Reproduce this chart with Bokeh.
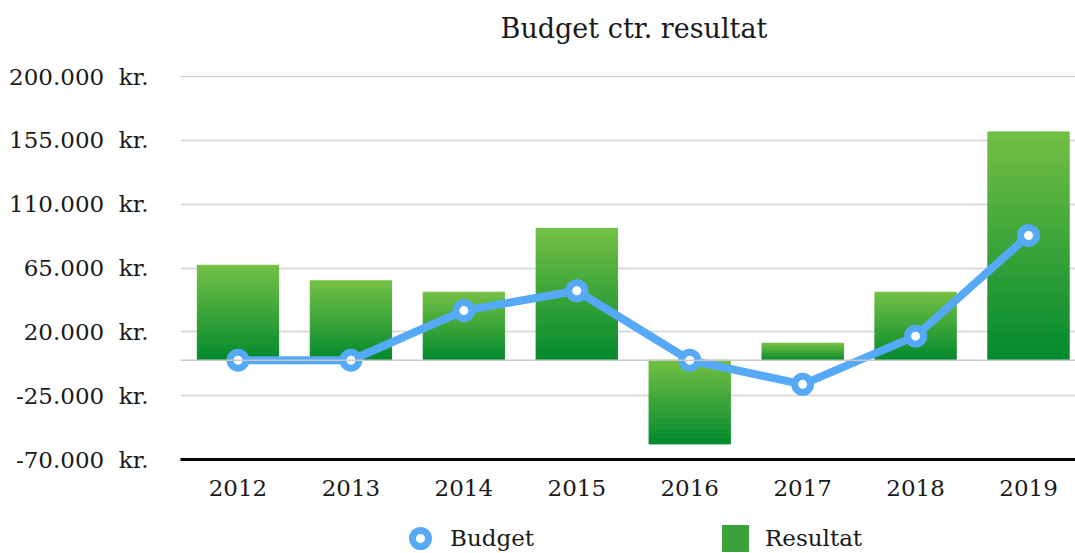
from bokeh.plotting import figure
from bokeh.layouts import column
from bokeh.models import (FixedTicker, Range1d, Legend, LegendItem, Span, ColumnDataSource, Label)
from bokeh.embed import file_html
from bokeh.resources import INLINE

# ---- data ----
title_text = "Budget ctr. resultat"
years = [2012, 2013, 2014, 2015, 2016, 2017, 2018, 2019]
year_labels = ["2012", "2013", "2014", "2015", "2016", "2017", "2018", "2019"]
resultat = [67000, 56000, 48000, 93000, -59000, 12000, 48000, 161000]
budget = [0, 0, 35000, 49000, 0, -17000, 17000, 88000]
y_ticks = [-70000, -25000, 20000, 65000, 110000, 155000, 200000]
y_tick_labels = ["-70.000\u00a0 kr.", "-25.000\u00a0 kr.", "20.000\u00a0 kr.", "65.000\u00a0 kr.",
                 "110.000\u00a0 kr.", "155.000\u00a0 kr.", "200.000\u00a0 kr."]
series_names = ["Budget", "Resultat"]

FONT = "DejaVu Serif"
TXT = "#1a1a1a"
BLUE = "#55a9f6"
LEG_GREEN = "#3aa23b"
TOP_GREEN = (0x72, 0xbf, 0x44)
BOT_GREEN = (0x04, 0x8a, 0x2e)


def strip(h):
    f = figure(width=1075, height=h, output_backend="svg", toolbar_location=None,
               x_range=Range1d(0, 1), y_range=Range1d(0, 1),
               min_border_left=180, min_border_right=0, min_border_top=0, min_border_bottom=0)
    f.axis.visible = False
    f.grid.visible = False
    f.outline_line_color = None
    f.border_fill_color = "white"
    f.background_fill_color = "white"
    return f


# ---- title strip ----
ts = strip(50)
ts.add_layout(Label(x=0.5067, y=0.44, text=title_text, text_font=FONT, text_font_size="27px",
                    text_color=TXT, text_align="center", text_baseline="middle"))

# ---- main chart ----
p = figure(width=1075, height=455, output_backend="svg", toolbar_location=None,
           x_range=Range1d(2011.491, 2019.416), y_range=Range1d(-70000, 200800),
           min_border_left=180, min_border_right=0, min_border_top=25, min_border_bottom=46)
p.outline_line_color = None
p.background_fill_color = "white"
p.border_fill_color = "white"

p.xaxis.ticker = FixedTicker(ticks=years)
p.xaxis.major_label_overrides = {y: l for y, l in zip(years, year_labels)}
p.xaxis.major_tick_line_color = None
p.xaxis.minor_tick_line_color = None
p.xaxis.major_tick_out = 0
p.xaxis.major_label_standoff = 20
p.xaxis.axis_line_color = "#000000"
p.xaxis.axis_line_width = 3
p.xaxis.major_label_text_font = FONT
p.xaxis.major_label_text_font_size = "23px"
p.xaxis.major_label_text_color = TXT

p.yaxis.ticker = FixedTicker(ticks=y_ticks)
p.yaxis.major_label_overrides = {t: l for t, l in zip(y_ticks, y_tick_labels)}
p.yaxis.axis_line_color = None
p.yaxis.major_tick_line_color = None
p.yaxis.minor_tick_line_color = None
p.yaxis.major_tick_out = 0
p.yaxis.major_label_standoff = 32
p.yaxis.major_label_text_font = FONT
p.yaxis.major_label_text_font_size = "23px"
p.yaxis.major_label_text_color = TXT

p.xgrid.grid_line_color = None
p.ygrid.grid_line_color = "#d2d2d2"
p.ygrid.grid_line_width = 1.5

p.add_layout(Span(location=0, dimension="width", line_color="#c8c8c8", line_width=1.5))

# gradient bars built from slices of each value
N = 50
xs, bots, tops, cols = [], [], [], []
for yr, v in zip(years, resultat):
    lo, hi = min(0, v), max(0, v)
    for k in range(N):
        f = k / (N - 1)
        c = tuple(int(round(BOT_GREEN[j] + (TOP_GREEN[j] - BOT_GREEN[j]) * f)) for j in range(3))
        xs.append(yr)
        bots.append(lo + (hi - lo) * k / N)
        tops.append(lo + (hi - lo) * (k + 1) / N)
        cols.append("#%02x%02x%02x" % c)
bar_src = ColumnDataSource(dict(x=xs, bottom=bots, top=tops, color=cols))
p.vbar(x="x", bottom="bottom", top="top", width=0.72, source=bar_src,
       fill_color="color", line_color="color", line_width=1.0)

p.line(x=years, y=budget, line_color=BLUE, line_width=8, line_join="round")
p.scatter(x=years, y=budget, size=16, fill_color="white", line_color=BLUE, line_width=7)

# ---- legend strip ----
lg = strip(48)
r_budget = lg.scatter(x=years, y=budget, size=16, fill_color="white", line_color=BLUE,
                      line_width=7, visible=False)
r_res = lg.scatter(x=years, y=resultat, marker="square", size=16, fill_color=LEG_GREEN,
                   line_color=LEG_GREEN, line_width=11, line_join="miter", visible=False)
legend = Legend(items=[LegendItem(label=series_names[0], renderers=[r_budget]),
                       LegendItem(label=series_names[1], renderers=[r_res])],
                orientation="horizontal", location=(220, -5),
                glyph_width=40, glyph_height=40, spacing=181, label_standoff=10,
                label_text_font=FONT, label_text_font_size="23px", label_text_color=TXT,
                border_line_color=None, background_fill_alpha=0, padding=0, margin=0)
lg.add_layout(legend, "center")

layout = column(ts, p, lg, spacing=0)
open("out.html", "w").write(file_html(layout, INLINE))
